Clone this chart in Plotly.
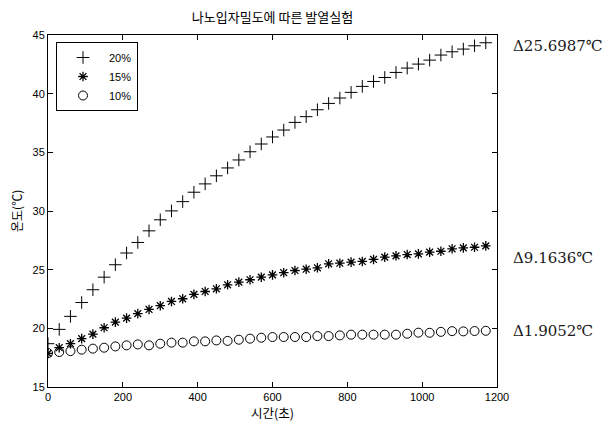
import plotly.graph_objects as go

time_s = [0, 30, 60, 90, 120, 150, 180, 210, 240, 270, 300, 330, 360, 390, 420, 450, 480, 510, 540, 570,
          600, 630, 660, 690, 720, 750, 780, 810, 840, 870, 900, 930, 960, 990, 1020, 1050, 1080, 1110, 1140, 1170]

temp_20 = [18.69, 19.91, 21.02, 22.20, 23.29, 24.36, 25.42, 26.42, 27.32, 28.31,
           29.25, 30.01, 30.80, 31.60, 32.31, 33.00, 33.67, 34.35, 35.05, 35.71,
           36.31, 36.90, 37.55, 38.04, 38.63, 39.17, 39.63, 40.11, 40.62, 41.04,
           41.38, 41.81, 42.18, 42.52, 42.86, 43.29, 43.57, 43.80, 44.08, 44.34]

temp_15 = [17.87, 18.35, 18.69, 19.12, 19.51, 20.05, 20.53, 20.87, 21.25, 21.61,
           21.93, 22.29, 22.52, 22.89, 23.14, 23.37, 23.71, 23.94, 24.14, 24.36,
           24.56, 24.74, 24.93, 25.04, 25.16, 25.50, 25.55, 25.64, 25.70, 25.87,
           26.07, 26.18, 26.29, 26.35, 26.49, 26.57, 26.78, 26.86, 26.91, 27.03]

temp_10 = [17.89, 17.98, 18.06, 18.18, 18.27, 18.35, 18.46, 18.55, 18.63, 18.55,
           18.69, 18.78, 18.78, 18.89, 18.89, 18.97, 18.93, 19.03, 19.12, 19.20,
           19.26, 19.26, 19.26, 19.26, 19.34, 19.34, 19.40, 19.46, 19.46, 19.46,
           19.46, 19.46, 19.54, 19.63, 19.62, 19.70, 19.76, 19.74, 19.77, 19.79]

series_names = ["20%", "15%", "10%"]
delta_labels = ["Δ25.6987℃", "Δ9.1636℃", "Δ1.9052℃"]
delta_y = [44.1, 26.0, 19.8]

x_ticks = [0, 200, 400, 600, 800, 1000, 1200]
y_ticks = [15, 20, 25, 30, 35, 40, 45]

# page body has an 8px margin, so everything is laid out 8px up/left
OFF = 8
W, H = 610, 425
L, T = 48 - OFF, 35 - OFF
pw, ph = 449, 352
R, B = W - L - pw, H - T - ph

def px_x(x):  # reference pixel -> paper x
    return (x - OFF - L) / pw

def px_y(y):  # reference pixel -> paper y
    return 1 - (y - OFF - T) / ph

fig = go.Figure()
fig.add_trace(go.Scatter(x=time_s, y=temp_20, mode="markers", name=series_names[0],
                         marker=dict(symbol="cross-thin", size=9, color="black",
                                     line=dict(width=1, color="black"))))
fig.add_trace(go.Scatter(x=time_s, y=temp_15, mode="markers", name=series_names[1],
                         marker=dict(symbol="asterisk", size=8, color="black",
                                     line=dict(width=1.3, color="black"))))
fig.add_trace(go.Scatter(x=time_s, y=temp_10, mode="markers", name=series_names[2],
                         marker=dict(symbol="circle-open", size=9, color="black",
                                     line=dict(width=1, color="black"))))

for lab, yv in zip(delta_labels, delta_y):
    fig.add_annotation(text=lab, xref="paper", x=px_x(511), xanchor="left",
                       yref="y", y=yv, yanchor="middle", showarrow=False,
                       font=dict(family="DejaVu Serif, serif", size=15, color="#1a1a1a"))

kfont = dict(family="Noto Sans CJK KR, sans-serif", size=12.5, color="black")
fig.add_annotation(text="시간(초)", xref="paper", x=0.5, xanchor="center",
                   yref="paper", y=px_y(412), yanchor="middle",
                   showarrow=False, font=kfont)
fig.add_annotation(text="온도(℃)", xref="paper", x=px_x(16), xanchor="center",
                   yref="paper", y=0.5, yanchor="middle", textangle=-90,
                   showarrow=False,
                   font=dict(family="Noto Sans CJK KR, sans-serif", size=12, color="black"))

axis_common = dict(showgrid=False, zeroline=False, showline=True, linecolor="black", linewidth=1,
                   mirror="ticks", ticks="inside", ticklen=5, tickcolor="black", automargin=False,
                   tickfont=dict(family="Liberation Sans, Arial, sans-serif", size=11, color="black"))

fig.update_layout(
    width=W, height=H,
    margin=dict(l=L, r=R, t=T, b=B, autoexpand=False),
    paper_bgcolor="white", plot_bgcolor="white",
    title=dict(text="나노입자밀도에 따른 발열실험", x=(L + pw / 2) / W, xanchor="center",
               y=1 - (17 - OFF) / H, yanchor="middle",
               font=dict(family="Noto Sans CJK KR, sans-serif", size=13, color="black")),
    xaxis=dict(range=[0, 1200], tickvals=x_ticks, **axis_common),
    yaxis=dict(range=[15, 45], tickvals=y_ticks, **axis_common),
    legend=dict(x=px_x(56), y=px_y(42), xanchor="left", yanchor="top",
                bordercolor="black", borderwidth=1, bgcolor="white",
                font=dict(family="Liberation Sans, Arial, sans-serif", size=11, color="black"),
                tracegroupgap=0, itemwidth=42),
    showlegend=True,
)

fig.write_html("out.html")
